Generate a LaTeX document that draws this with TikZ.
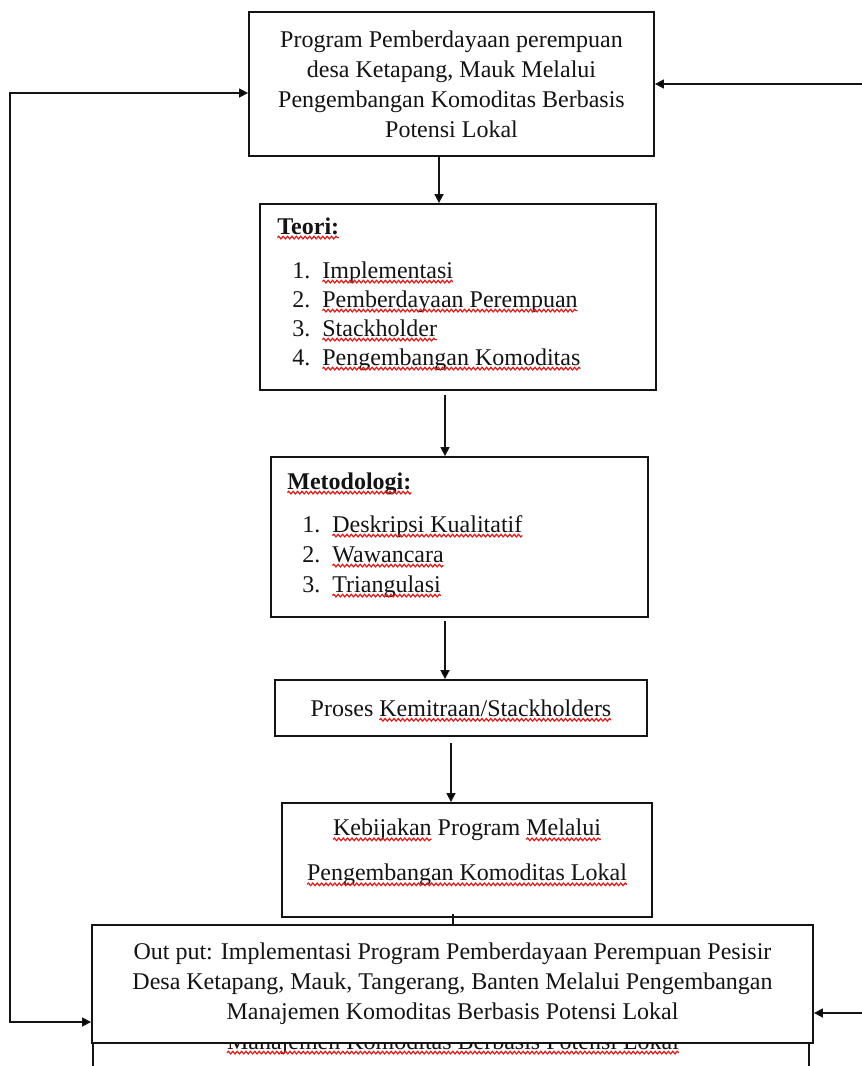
\documentclass[tikz,border=0pt]{standalone}
\usepackage{fontspec}
\setmainfont{Liberation Serif}
\usetikzlibrary{arrows.meta,positioning,decorations.pathmorphing}
\definecolor{ink}{RGB}{20,20,20}
\definecolor{typo}{RGB}{225,25,25}
\tikzset{
  >={Triangle[length=4.5pt,width=4.5pt]},
  box/.style={draw=ink,fill=white,line width=0.9pt,inner sep=0pt,align=center,
    text=ink,font=\fontsize{12}{15}\selectfont},
  flow/.style={->,line width=0.75pt,draw=ink},
  item/.style={anchor=base west,inner sep=0pt,text=ink,font=\fontsize{12}{14}\selectfont},
  head/.style={item,font=\fontsize{12}{14}\selectfont\bfseries},
  plain/.style={draw=none,fill=none,inner sep=0pt,outer sep=0pt,minimum width=0pt,
    minimum height=0pt,anchor=base,text=ink},
  squig/.style={draw=typo,line width=0.6pt,overlay,decorate,
    decoration={snake,amplitude=0.65pt,segment length=2.2pt}},
}
% red wavy underline
\newcommand{\sq}[1]{\tikz[baseline=(w.base),x=1pt,y=1pt]{\node[plain] (w) {#1};
  \draw[squig] ([yshift=-1.8pt]w.base west) -- ([yshift=-1.8pt]w.base east);}}

\begin{document}
\begin{tikzpicture}[x=0.5pt,y=-0.5pt]
  \useasboundingbox (0,0) rectangle (862,1066);
  \clip (0,0) rectangle (862,1066);
  % boxes
  \node[box,minimum width=202.5pt,minimum height=72pt] (prog) at (451.5,84)
    {Program Pemberdayaan perempuan\\desa Ketapang, Mauk Melalui\\Pengembangan Komoditas Berbasis\\Potensi Lokal};
  \node[box,minimum width=198pt,minimum height=93pt] (teori) at (458,297) {};
  \node[box,minimum width=188.5pt,minimum height=80pt] (metode) at (459.5,537) {};
  \node[box,minimum width=186pt,minimum height=28pt] (proses) at (461,708) {Proses \sq{Kemitraan/Stackholders}};
  \node[box,minimum width=185pt,minimum height=57pt] (kebijakan) at (467,860) {};
  \node[item,anchor=center,align=center,font=\fontsize{12}{22.5}\selectfont] (kt) at (467,852.5)
    {\sq{Kebijakan} Program \sq{Melalui}\\\sq{Pengembangan Komoditas Lokal}};
  % lists
  \node[head] (th) at (277,234) {\sq{Teori:}};
  \foreach \t [count=\i] in {Implementasi,Pemberdayaan Perempuan,Stackholder,Pengembangan Komoditas}
    \node[item] (t\i) at (292,249+29*\i) {\makebox[15pt][l]{\i.}\sq{\t}};
  \node[head] (mh) at (287,489) {\sq{Metodologi:}};
  \foreach \t [count=\i] in {Deskripsi Kualitatif,Wawancara,Triangulasi}
    \node[item] (m\i) at (302,502+30*\i) {\makebox[15pt][l]{\i.}\sq{\t}};
  % box behind the output
  \node[box,minimum width=358pt,minimum height=100pt] (hidden) at (451,1060) {};
  \node[item,anchor=base] (ht) at (453,1049) {\sq{Manajemen Komoditas Berbasis Potensi Lokal}};
  \node[box,minimum width=360.5pt,minimum height=59pt] (output) at (452.5,984)
    {Out put: Implementasi Program Pemberdayaan Perempuan Pesisir\\Desa Ketapang, Mauk, Tangerang, Banten Melalui Pengembangan\\Manajemen Komoditas Berbasis Potensi Lokal};
  % arrows
  \coordinate (a1) at (439,0);
  \coordinate (a2) at (445,0);
  \coordinate (a4) at (451,0);
  \coordinate (a5) at (453,0);
  \draw[flow] (prog.south -| a1) -- (teori.north -| a1);
  \draw[flow,shorten <=2pt] (teori.south -| a2) -- (metode.north -| a2);
  \draw[flow,shorten <=1.5pt] (metode.south -| a2) -- (proses.north -| a2);
  \draw[flow,shorten <=3pt] (proses.south -| a4) -- (kebijakan.north -| a4);
  \draw[ink,line width=0.75pt,shorten <=-2pt] (kebijakan.south -| a5) -- (output.north -| a5);
  % feedback lines
  \coordinate (lt) at (10,93);
  \coordinate (lb) at (10,1022);
  \coordinate (rt) at (862,84);
  \coordinate (rb) at (862,1013);
  \draw[flow,<->] (prog.west |- lt) -- (lt) -- (lb) -- (output.west |- lb);
  \draw[flow] (rt) -- (prog.east |- rt);
  \draw[flow] (rb) -- (output.east |- rb);
\end{tikzpicture}
\end{document}
